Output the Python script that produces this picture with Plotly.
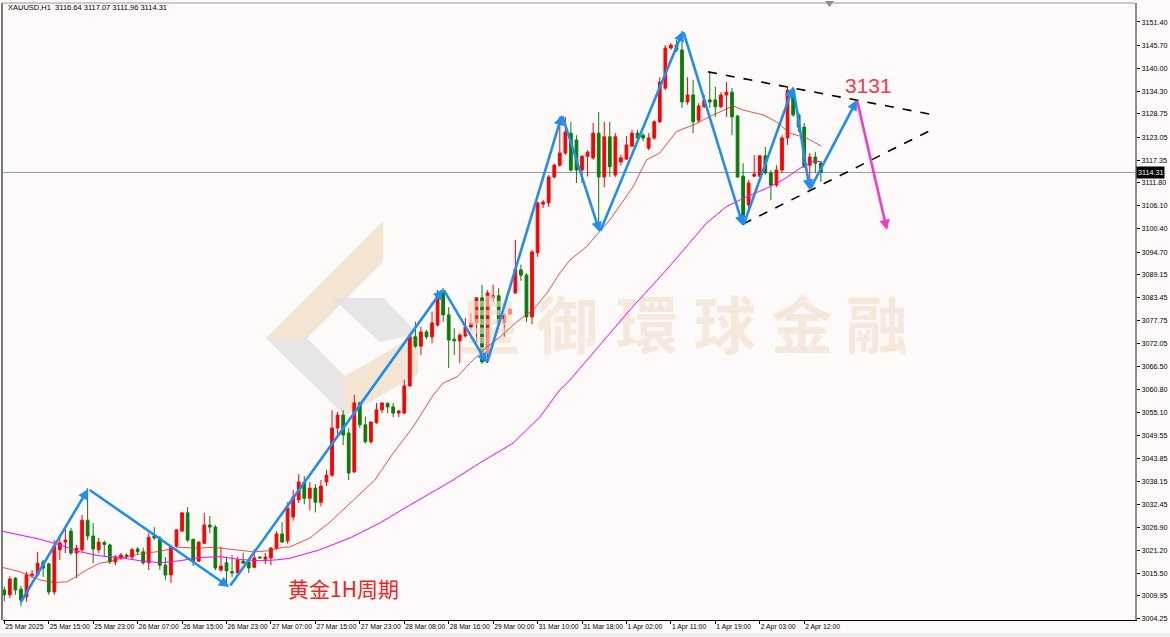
import plotly.graph_objects as go

# ---------------- data ----------------
opens = [3011.4,3010.2,3014.3,3011.6,3009.7,3015.0,3015.1,3018.3,3017.8,3010.9,
         3021.3,3023.2,3025.9,3020.5,3021.3,3028.6,3024.7,3021.3,3023.1,3022.5,
         3018.3,3019.3,3020.0,3019.5,3021.5,3020.8,3018.1,3024.7,3024.2,3017.5,
         3015.1,3022.2,3025.9,3030.4,3023.9,3018.5,3022.9,3027.4,3026.9,3016.3,
         3018.1,3015.9,3015.6,3018.5,3018.3,3017.0,3019.5,3019.0,3019.3,3021.7,
         3025.2,3023.5,3029.4,3033.6,3038.0,3034.0,3036.5,3033.0,3038.0,3039.7,
         3051.3,3054.5,3050.1,3040.5,3057.5,3052.1,3047.9,3052.6,3055.8,3057.4,
         3056.5,3055.0,3055.0,3061.7,3073.8,3071.5,3075.0,3073.8,3076.7,3084.6,
         3079.2,3073.2,3072.8,3074.0,3076.2,3077.2,3083.4,3069.8,3083.4,3083.9,
         3077.2,3079.4,3084.6,3090.3,3089.0,3078.7,3094.5,3106.5,3106.8,3113.2,
         3116.1,3119.1,3124.0,3122.3,3114.9,3118.3,3117.9,3124.0,3113.2,3123.1,
         3113.7,3116.9,3117.6,3120.8,3124.0,3123.5,3120.3,3122.8,3126.8,3135.1,
         3145.0,3145.7,3144.5,3131.7,3133.4,3127.2,3130.5,3132.2,3132.2,3130.5,
         3133.4,3134.1,3128.2,3113.4,3106.3,3113.4,3113.4,3118.4,3114.2,3111.2,
         3114.9,3122.8,3134.6,3128.5,3125.5,3116.1,3118.1,3116.64]
highs = [3012.2,3014.8,3014.6,3012.4,3015.9,3016.3,3020.8,3018.8,3018.1,3023.7,
         3024.2,3026.4,3026.7,3022.5,3029.9,3036.5,3027.9,3024.2,3023.6,3022.8,
         3020.0,3020.5,3020.4,3021.8,3022.0,3021.8,3025.4,3026.9,3024.7,3019.5,
         3022.5,3026.4,3030.6,3031.8,3024.0,3023.3,3030.4,3029.6,3027.4,3022.1,
         3019.6,3020.0,3019.6,3020.6,3018.8,3021.5,3019.7,3020.5,3022.0,3025.9,
         3028.1,3033.0,3036.0,3040.0,3039.5,3038.0,3037.5,3038.5,3041.0,3055.7,
         3055.3,3055.7,3051.3,3059.5,3057.8,3054.1,3052.9,3057.5,3057.6,3057.6,
         3057.5,3055.8,3063.2,3073.9,3077.5,3076.3,3075.5,3080.0,3085.3,3085.8,
         3081.1,3075.9,3074.7,3078.4,3079.7,3083.6,3086.6,3085.3,3086.6,3085.8,
         3079.7,3080.9,3097.7,3091.6,3089.5,3095.2,3107.1,3107.5,3113.7,3116.5,
         3128.1,3128.0,3126.8,3123.5,3118.6,3119.8,3126.5,3129.2,3126.8,3126.8,
         3124.0,3118.7,3123.3,3124.8,3124.8,3124.0,3124.0,3127.2,3137.8,3145.7,
         3146.2,3147.0,3149.2,3137.8,3137.1,3131.4,3133.4,3139.1,3135.4,3134.1,
         3136.6,3135.1,3128.5,3116.6,3112.5,3118.6,3118.6,3120.6,3114.9,3116.1,
         3123.5,3135.4,3135.4,3129.0,3126.5,3119.1,3119.4,3117.07]
lows = [3008.6,3009.4,3010.2,3007.4,3008.5,3014.3,3014.6,3014.6,3010.2,3010.2,
        3018.8,3020.5,3020.0,3014.3,3020.8,3023.7,3018.0,3020.5,3019.5,3017.8,
        3017.5,3018.8,3019.2,3019.0,3020.3,3017.6,3016.3,3023.7,3016.3,3013.9,
        3013.1,3022.0,3025.7,3023.2,3017.3,3018.3,3022.7,3025.4,3016.3,3015.9,
        3012.6,3014.6,3015.5,3017.9,3015.6,3016.8,3019.1,3017.8,3017.5,3021.3,
        3023.0,3022.8,3028.5,3032.8,3032.5,3031.0,3030.5,3032.0,3037.0,3039.2,
        3049.2,3047.1,3038.5,3040.2,3051.3,3047.5,3047.5,3052.4,3055.0,3055.0,
        3054.0,3054.0,3054.8,3061.5,3071.0,3069.3,3073.2,3072.2,3076.3,3077.5,
        3066.1,3069.3,3067.3,3073.6,3075.5,3072.3,3067.1,3067.3,3082.4,3077.0,
        3073.8,3079.2,3084.4,3087.6,3077.5,3076.9,3093.5,3105.5,3105.8,3112.8,
        3115.7,3118.6,3114.5,3111.7,3111.7,3113.3,3117.4,3100.6,3110.7,3113.2,
        3113.2,3116.0,3117.4,3120.6,3122.3,3122.0,3119.8,3122.3,3126.5,3134.6,
        3144.5,3144.0,3130.2,3131.0,3124.0,3126.5,3130.2,3130.2,3128.0,3130.2,
        3128.0,3123.5,3113.0,3101.4,3105.5,3113.2,3113.2,3113.7,3107.5,3110.7,
        3114.2,3121.1,3128.0,3124.3,3115.4,3110.2,3114.2,3111.96]
closes = [3010.2,3014.1,3011.4,3008.9,3015.1,3015.3,3018.0,3016.8,3010.9,3022.2,
          3023.0,3023.7,3020.5,3021.7,3028.6,3024.7,3021.5,3023.2,3022.6,3018.3,
          3019.5,3020.0,3019.6,3021.3,3020.8,3018.1,3024.4,3024.2,3017.5,3015.1,
          3022.0,3026.2,3030.4,3023.7,3018.3,3023.2,3027.4,3026.9,3016.8,3017.3,
          3016.1,3015.6,3018.8,3018.0,3016.8,3019.3,3019.3,3019.5,3021.7,3025.2,
          3023.2,3031.6,3034.3,3038.0,3034.0,3036.5,3033.0,3037.0,3039.7,3051.3,
          3054.5,3049.6,3040.2,3057.5,3052.1,3047.9,3052.8,3055.8,3057.5,3056.5,
          3055.0,3055.5,3061.7,3073.8,3071.5,3075.0,3073.8,3077.2,3084.6,3079.2,
          3073.0,3072.8,3074.2,3076.2,3077.2,3083.4,3067.6,3084.6,3083.9,3077.2,
          3079.2,3080.6,3090.5,3089.0,3078.7,3094.7,3106.8,3107.0,3113.2,3116.1,
          3119.1,3124.3,3114.9,3114.9,3118.3,3119.3,3124.0,3113.2,3123.1,3115.7,
          3123.1,3117.9,3121.1,3124.0,3122.8,3122.8,3122.8,3126.8,3136.6,3145.0,
          3145.7,3144.5,3131.7,3133.4,3126.8,3130.7,3132.2,3131.7,3130.5,3133.4,
          3134.1,3128.0,3113.2,3103.3,3111.7,3113.9,3118.4,3114.2,3111.2,3114.9,
          3122.8,3134.6,3128.5,3125.5,3115.7,3118.1,3116.6,3114.31]

# time-axis labels (every 8th bar)
time_label_bars = [0, 8, 16, 24, 32, 40, 48, 56, 64, 72, 80, 88, 96, 104, 112, 120, 128, 136, 144]
time_labels = ["25 Mar 2025", "25 Mar 15:00", "25 Mar 23:00", "26 Mar 07:00", "26 Mar 15:00",
               "26 Mar 23:00", "27 Mar 07:00", "27 Mar 15:00", "27 Mar 23:00", "28 Mar 08:00",
               "28 Mar 16:00", "29 Mar 00:00", "31 Mar 10:00", "31 Mar 18:00", "1 Apr 02:00",
               "1 Apr 11:00", "1 Apr 19:00", "2 Apr 03:00", "2 Apr 12:00"]

# price-axis ticks
price_ticks = [3151.40, 3145.70, 3140.00, 3134.30, 3128.75, 3123.05, 3117.35, 3111.80, 3106.10,
               3100.40, 3094.70, 3089.15, 3083.45, 3077.75, 3072.05, 3066.50, 3060.80, 3055.10,
               3049.55, 3043.85, 3038.15, 3032.45, 3026.90, 3021.20, 3015.50, 3009.95, 3004.25]

# moving averages
ma_fast_x = [-0.8, 2.8, 6.4, 8.8, 11.2, 13.0, 14.8, 17.2, 19.0, 22.0, 25.0, 27.4, 31.6, 35.2, 37.6,
             41.2, 44.8, 47.2, 50.2, 51.4, 55.0, 58.6, 62.2, 66.7, 70.0, 73.6, 77.2, 79.0, 81.5,
             83.8, 86.9, 89.2, 91.6, 93.4, 95.2, 97.7, 100.0, 101.8, 104.8, 109.0, 113.2, 115.6,
             118.0, 121.0, 124.0, 127.6, 131.2, 133.0, 136.6, 139.0, 141.4, 144.4, 147.1]
ma_fast_y = [3017.1, 3015.9, 3013.9, 3013.2, 3013.4, 3014.7, 3016.3, 3018.0, 3018.4, 3019.6, 3020.4,
             3020.8, 3021.9, 3021.7, 3021.9, 3021.3, 3020.8, 3021.0, 3021.9, 3022.0, 3024.2, 3028.1,
             3032.8, 3038.5, 3045.1, 3051.6, 3059.4, 3062.4, 3063.9, 3067.3, 3071.3, 3073.7, 3076.7,
             3078.7, 3080.4, 3084.6, 3089.5, 3092.7, 3096.0, 3102.6, 3110.8, 3117.4, 3119.1, 3124.4,
             3126.0, 3128.5, 3130.7, 3129.7, 3128.5, 3126.8, 3124.0, 3122.8, 3120.8]
ma_slow_x = [-0.8, 2.8, 6.4, 10.0, 13.6, 17.2, 20.8, 24.4, 28.0, 31.6, 35.2, 38.8, 42.4, 46.0, 49.0,
             51.4, 56.8, 62.2, 67.6, 73.0, 77.5, 80.8, 85.6, 91.6, 96.4, 100.0, 101.8, 107.2, 112.6,
             119.2, 122.8, 126.4, 130.0, 133.6, 137.2, 140.2, 143.2, 145.6, 147.1]
ma_slow_y = [3026.0, 3024.9, 3023.9, 3022.5, 3020.8, 3019.8, 3019.4, 3018.6, 3018.1, 3018.6, 3019.4,
             3019.6, 3018.9, 3018.6, 3018.8, 3019.2, 3021.3, 3024.2, 3027.9, 3032.3, 3036.0, 3038.5,
             3042.7, 3047.6, 3054.0, 3060.7, 3063.1, 3071.8, 3080.4, 3090.3, 3096.0, 3101.8, 3105.9,
             3108.3, 3110.4, 3112.5, 3115.3, 3117.0, 3117.0]

# zigzag pivots (bar, price) and projected move
zigzag_x = [2.8, 15.1, 40.5, 79.0, 86.9, 100.4, 107.2, 122.2, 133.0, 142.0, 145.0, 153.5]
zigzag_y = [3008.0, 3036.3, 3012.1, 3085.6, 3067.3, 3128.5, 3099.6, 3149.2, 3101.1, 3135.4, 3110.0, 3132.2]
forecast_x = [153.5, 158.9]
forecast_y = [3132.2, 3100.1]

# triangle trend lines
upper_line_x = [126.7, 166.6]
upper_line_y = [3139.1, 3128.7]
lower_line_x = [133.0, 166.6]
lower_line_y = [3101.6, 3124.6]

target_label = "3131"
cycle_label = "黄金1H周期"
watermark_chars = ["皇", "御", "環", "球", "金", "融"]
watermark_x = [87.4, 101.3, 115.7, 129.7, 143.6, 157.1]
watermark_y = 3074.7

# ---------------- figure ----------------
W, H = 1170, 637
ML, MR, MT, MB = 3, 35, 3, 17
BG = "#FEFAF9"
FONT = "Liberation Sans"

def px2paper(x, y):
    return (x - ML) / (W - ML - MR), (H - MB - y) / (H - MT - MB)

fig = go.Figure()

# watermark text (under candles)
fig.add_trace(go.Scatter(
    x=watermark_x, y=[watermark_y] * len(watermark_x), mode="text", text=watermark_chars,
    textfont=dict(family="Noto Sans CJK TC", size=62, weight="bold", color="rgba(240,222,200,0.62)"),
    hoverinfo="skip", showlegend=False))

fig.add_trace(go.Scatter(x=ma_slow_x, y=ma_slow_y, mode="lines",
                         line=dict(color="#FF00FF", width=1), hoverinfo="skip", showlegend=False))
fig.add_trace(go.Scatter(x=ma_fast_x, y=ma_fast_y, mode="lines",
                         line=dict(color="#F02020", width=0.8), hoverinfo="skip", showlegend=False))

bars = list(range(len(opens)))
fig.add_trace(go.Candlestick(
    x=bars, open=opens, high=highs, low=lows, close=closes,
    increasing=dict(line=dict(color="#FF0000", width=1), fillcolor="#FF0000"),
    decreasing=dict(line=dict(color="#087F08", width=1), fillcolor="#087F08"),
    whiskerwidth=0, hoverinfo="skip", showlegend=False))

shapes = []
# current price line
shapes.append(dict(type="line", xref="paper", yref="y", x0=0, x1=1, y0=closes[-1], y1=closes[-1],
                   line=dict(color="#8C9BAA", width=1), layer="below"))
# triangle dashed lines
for lx, ly in ((upper_line_x, upper_line_y), (lower_line_x, lower_line_y)):
    shapes.append(dict(type="line", xref="x", yref="y", x0=lx[0], x1=lx[1], y0=ly[0], y1=ly[1],
                       line=dict(color="#000000", width=1.6, dash="dash")))

# watermark logo (decoration)
def poly(pts, color, layer="below"):
    coords = [px2paper(x, y) for x, y in pts]
    path = "M " + " L ".join(f"{a:.4f},{b:.4f}" for a, b in coords) + " Z"
    return dict(type="path", xref="paper", yref="paper", path=path,
                fillcolor=color, line=dict(width=0), layer=layer)

beige = "rgba(240,224,200,0.8)"
grey = "rgba(226,224,226,0.8)"
shapes.append(poly([(266, 338), (383, 221), (383, 262), (307, 338)], beige))
shapes.append(poly([(266, 338), (307, 338), (345, 376), (345, 416)], grey))
shapes.append(poly([(345, 376), (418, 334), (418, 374), (345, 416)], beige))
shapes.append(poly([(332, 298), (384, 298), (418, 334), (380, 342)], grey))

# small marker at the top and bottom strip
shapes.append(poly([(825, 1), (834, 1), (829.5, 7)], "#8A8A8A", "above"))
bx0, by0 = px2paper(0, 633)
bx1, by1 = px2paper(W, H)
shapes.append(dict(type="rect", xref="paper", yref="paper", x0=bx0, x1=bx1, y0=by1, y1=by0,
                   fillcolor="#EFEFEF", line=dict(width=0), layer="below"))

annotations = []
# zigzag with arrowheads at each pivot
for i in range(len(zigzag_x) - 1):
    annotations.append(dict(x=zigzag_x[i + 1], y=zigzag_y[i + 1], ax=zigzag_x[i], ay=zigzag_y[i],
                            xref="x", yref="y", axref="x", ayref="y", text="", showarrow=True,
                            arrowhead=2, arrowsize=0.8, arrowwidth=2.6, arrowcolor="#1E8FF0",
                            standoff=0, startstandoff=0))
annotations.append(dict(x=forecast_x[1], y=forecast_y[1], ax=forecast_x[0], ay=forecast_y[0],
                        xref="x", yref="y", axref="x", ayref="y", text="", showarrow=True,
                        arrowhead=2, arrowsize=0.8, arrowwidth=2.6, arrowcolor="#F23CC6",
                        standoff=0, startstandoff=0))

tx, ty = px2paper(868, 86)
annotations.append(dict(x=tx, y=ty, xref="paper", yref="paper", xanchor="center", yanchor="middle",
                        text=target_label, showarrow=False,
                        font=dict(family="Liberation Sans", size=21, color="#EE3B4E")))
cx, cy = px2paper(343, 588)
annotations.append(dict(x=cx, y=cy, xref="paper", yref="paper", xanchor="center", yanchor="middle",
                        text=cycle_label, showarrow=False,
                        font=dict(family="Noto Sans CJK SC", size=21, color="#F02424")))

hx, hy = px2paper(6, 8)
annotations.append(dict(x=hx, y=hy, xref="paper", yref="paper", xanchor="left", yanchor="middle",
                        text="XAUUSD,H1  " + " ".join(f"{v:.2f}" for v in
                                                      (opens[-1], highs[-1], lows[-1], closes[-1])),
                        showarrow=False, font=dict(family=FONT, size=7.5, color="#000000")))
px_, _ = px2paper(1136, 0)
annotations.append(dict(x=px_, y=closes[-1], xref="paper", yref="y", xanchor="left", yanchor="middle",
                        text=f"{closes[-1]:.2f}", showarrow=False, bgcolor="#000000",
                        borderpad=1, font=dict(family=FONT, size=7.2, color="#FFFFFF")))

x_lo = (ML - 4.3) / 5.555
x_hi = (W - MR - 4.3) / 5.555
y_lo = 3156.82 - 0.2465 * (H - MB)
y_hi = 3156.82 - 0.2465 * MT

fig.update_layout(
    width=W, height=H, margin=dict(l=ML, r=MR, t=MT, b=MB, autoexpand=False),
    paper_bgcolor=BG, plot_bgcolor=BG, showlegend=False,
    shapes=shapes, annotations=annotations,
    xaxis=dict(range=[x_lo, x_hi], tickvals=time_label_bars, ticktext=time_labels,
               ticks="outside", ticklen=3, tickcolor="#000000", showgrid=False, zeroline=False,
               showline=True, linecolor="#000000", linewidth=1, mirror=False, tickangle=0,
               automargin=False, ticklabelposition="outside right",
               rangeslider=dict(visible=False),
               tickfont=dict(family=FONT, size=6.8, color="#000000")),
    yaxis=dict(range=[y_lo, y_hi], side="right", tickvals=price_ticks, automargin=False,
               ticktext=[f"{v:.2f}" for v in price_ticks], ticks="outside", ticklen=3,
               tickcolor="#000000", showgrid=False, zeroline=False, showline=True,
               linecolor="#8C8C8C", linewidth=2, mirror=False,
               tickfont=dict(family=FONT, size=7.2, color="#000000")),
)
# left frame and top frame lines
lx0, _ = px2paper(2, 0)
fig.add_shape(type="line", xref="paper", yref="paper", x0=lx0, x1=lx0, y0=0, y1=1,
              line=dict(color="#7A7A7A", width=2))
fig.add_shape(type="line", xref="paper", yref="paper", x0=lx0, x1=1, y0=1, y1=1,
              line=dict(color="#9A9A9A", width=1))

fig.write_html("out.html")
